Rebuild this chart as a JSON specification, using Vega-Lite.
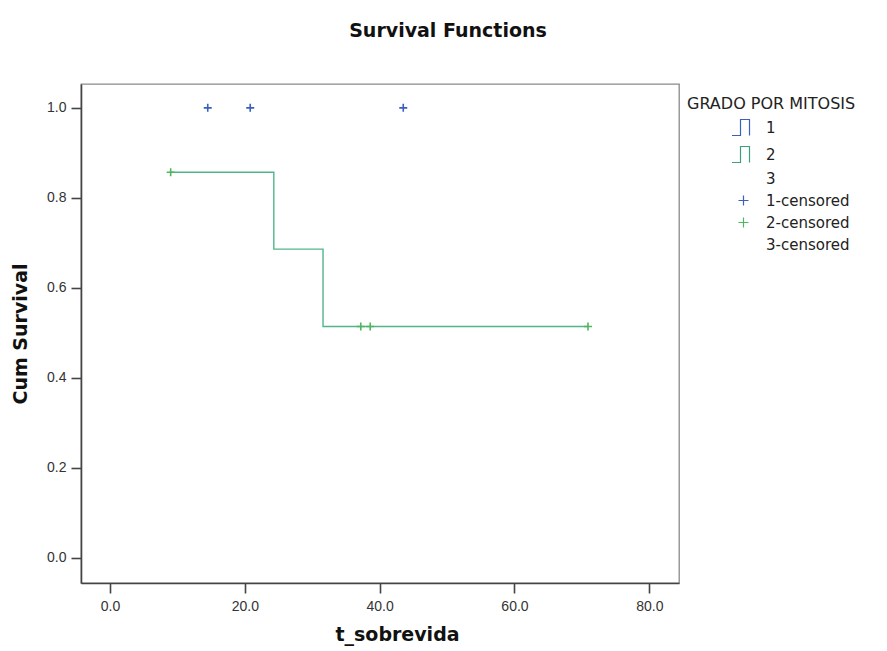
{
  "$schema": "https://vega.github.io/schema/vega-lite/v6.json",
  "width": 598,
  "height": 499,
  "autosize": {"type": "none"},
  "padding": {"left": 81, "top": 84, "right": 208, "bottom": 68},
  "background": "white",
  "title": {
    "text": "Survival Functions",
    "font": "DejaVu Sans",
    "fontSize": 19,
    "fontWeight": "bold",
    "color": "#111",
    "anchor": "middle",
    "frame": "group",
    "dx": 68,
    "offset": 43
  },
  "datasets": {
    "curve": [
      {"grado": "2", "t_sobrevida": 9.0, "cum_survival": 0.857},
      {"grado": "2", "t_sobrevida": 24.3, "cum_survival": 0.686},
      {"grado": "2", "t_sobrevida": 31.6, "cum_survival": 0.514},
      {"grado": "2", "t_sobrevida": 70.9, "cum_survival": 0.514}
    ],
    "censored": [
      {"serie": "1-censored", "t_sobrevida": 14.5, "cum_survival": 1.0},
      {"serie": "1-censored", "t_sobrevida": 20.8, "cum_survival": 1.0},
      {"serie": "1-censored", "t_sobrevida": 43.5, "cum_survival": 1.0},
      {"serie": "2-censored", "t_sobrevida": 9.0, "cum_survival": 0.857},
      {"serie": "2-censored", "t_sobrevida": 37.2, "cum_survival": 0.514},
      {"serie": "2-censored", "t_sobrevida": 38.6, "cum_survival": 0.514},
      {"serie": "2-censored", "t_sobrevida": 70.9, "cum_survival": 0.514}
    ]
  },
  "config": {
    "view": {"stroke": "#8a8a8a", "strokeWidth": 1.3},
    "axis": {
      "grid": false,
      "domainColor": "#444",
      "domainWidth": 1.6,
      "tickColor": "#444",
      "tickWidth": 1.6,
      "tickSize": 10,
      "labelFont": "Liberation Sans",
      "labelFontSize": 14,
      "labelColor": "#333",
      "titleFont": "DejaVu Sans",
      "titleFontWeight": "bold",
      "titleFontSize": 19,
      "titleColor": "#111"
    }
  },
  "layer": [
    {
      "data": {"name": "curve"},
      "mark": {"type": "line", "interpolate": "step-after", "color": "#52b58a", "strokeWidth": 1.4},
      "encoding": {
        "x": {"field": "t_sobrevida", "type": "quantitative"},
        "y": {"field": "cum_survival", "type": "quantitative"}
      }
    },
    {
      "data": {"name": "censored"},
      "mark": {"type": "point", "filled": false, "size": 64, "strokeWidth": 1.6, "opacity": 1},
      "encoding": {
        "x": {
          "field": "t_sobrevida",
          "type": "quantitative",
          "scale": {"domain": [-4.3, 84.4], "nice": false, "zero": false},
          "axis": {"values": [0, 20, 40, 60, 80], "format": ".1f", "title": "t_sobrevida", "labelPadding": 6, "titlePadding": 12, "titleX": 316}
        },
        "y": {
          "field": "cum_survival",
          "type": "quantitative",
          "scale": {"domain": [-0.056, 1.053], "nice": false, "zero": false},
          "axis": {"values": [0, 0.2, 0.4, 0.6, 0.8, 1.0], "format": ".1f", "title": "Cum Survival", "labelPadding": 5, "titlePadding": 16}
        },
        "color": {
          "field": "serie",
          "type": "nominal",
          "scale": {
            "domain": ["1", "2", "3", "1-censored", "2-censored", "3-censored"],
            "range": ["#3a5fbf", "#3f9f7c", "#ffffff", "#3a5fbf", "#4fb65f", "#ffffff"]
          },
          "legend": {
            "title": "GRADO POR MITOSIS",
            "orient": "none",
            "legendX": 606,
            "legendY": 12,
            "titleFont": "DejaVu Sans",
            "titleFontSize": 16,
            "titleFontWeight": "normal",
            "titleColor": "#222",
            "titlePadding": 8,
            "labelFont": "DejaVu Sans",
            "labelFontSize": 15,
            "labelColor": "#222",
            "labelOffset": 15,
            "symbolOffset": 49,
            "symbolStrokeWidth": 1.2,
            "symbolFillColor": "transparent",
            "rowPadding": 6
          }
        },
        "shape": {
          "field": "serie",
          "type": "nominal",
          "scale": {
            "domain": ["1", "2", "3", "1-censored", "2-censored", "3-censored"],
            "range": [
              "M-2.3,1.6H-0.6V-1.6H1.2V1.6",
              "M-2.3,1.6H-0.6V-1.6H1.2V1.6",
              "M0,0",
              "M-1,0H1M0,-1V1",
              "M-1,0H1M0,-1V1",
              "M0,0"
            ]
          },
          "legend": {
            "title": "GRADO POR MITOSIS",
            "orient": "none",
            "legendX": 606,
            "legendY": 12
          }
        }
      }
    }
  ]
}
